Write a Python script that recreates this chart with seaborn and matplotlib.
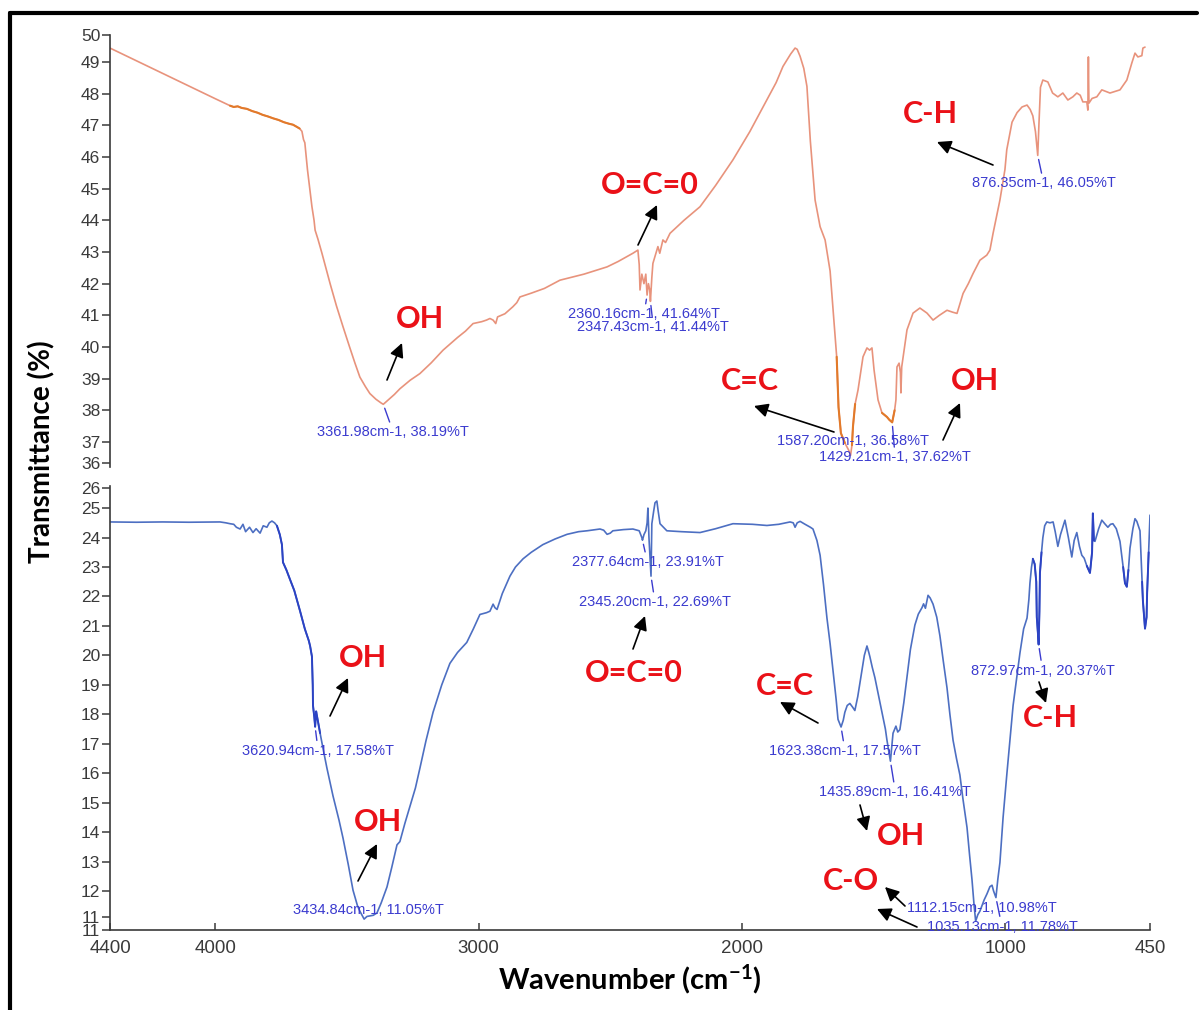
import matplotlib
matplotlib.use("Agg")
import matplotlib.pyplot as plt
from matplotlib.lines import Line2D
import pandas as pd
import seaborn as sns

# ---------------- spectra (wavenumber in cm-1, transmittance in %) ----------------
top_wn = [4400, 4300, 4200, 4100, 4000, 3944, 3930, 3915, 3900, 3880, 3860, 3840, 3820,
          3800, 3780, 3760, 3740, 3720, 3705, 3690, 3680, 3671, 3665, 3660, 3650, 3640,
          3633, 3625, 3621, 3610, 3595, 3580, 3564, 3540, 3515, 3490, 3470, 3451, 3430,
          3413, 3390, 3370, 3361.98, 3340, 3320, 3299, 3260, 3223, 3180, 3135, 3080, 3050,
          3021, 3000, 2988, 2970, 2957, 2945, 2935, 2928, 2900, 2870, 2855, 2843, 2800,
          2750, 2691, 2600, 2512, 2470, 2414, 2395, 2390, 2387, 2380, 2372, 2365, 2360.16,
          2355, 2350, 2347.43, 2342, 2338, 2325, 2319, 2312, 2300, 2290, 2273, 2220, 2159,
          2100, 2034, 1970, 1905, 1870, 1844, 1815, 1798, 1790, 1779, 1765, 1753, 1740,
          1722, 1703, 1684, 1665, 1654, 1640, 1633, 1624, 1609, 1595, 1587.20, 1582, 1578,
          1570, 1559, 1540, 1525, 1515, 1506, 1498, 1483, 1468, 1449, 1440, 1429.21, 1420,
          1415, 1411, 1403, 1398, 1396, 1393, 1373, 1350, 1324, 1297, 1274, 1250, 1221,
          1200, 1183, 1160, 1140, 1122, 1096, 1070, 1058, 1046, 1020, 1001, 994, 974, 955,
          936, 917, 905, 895, 885, 876.35, 872, 866, 857, 838, 820, 800, 781, 762, 743, 728,
          715, 705, 690, 686, 684, 682, 670, 652, 633, 602, 564, 538, 519, 507, 496, 481,
          477, 469]
top_t = [49.44, 49.04, 48.64, 48.24, 47.84, 47.62, 47.58, 47.60, 47.55, 47.52, 47.45, 47.40,
         47.33, 47.28, 47.22, 47.17, 47.10, 47.05, 47.02, 46.95, 46.90, 46.81, 46.55, 46.45,
         45.60, 44.90, 44.43, 44.00, 43.69, 43.40, 42.96, 42.50, 42.00, 41.30, 40.64, 40.00,
         39.50, 39.05, 38.75, 38.53, 38.35, 38.23, 38.19, 38.35, 38.50, 38.68, 38.95, 39.16,
         39.50, 39.90, 40.30, 40.50, 40.74, 40.78, 40.80, 40.85, 40.90, 40.85, 40.74, 40.95,
         41.05, 41.27, 41.40, 41.58, 41.70, 41.85, 42.11, 42.30, 42.53, 42.70, 42.96, 43.06,
         42.60, 41.80, 42.30, 42.00, 42.30, 41.64, 42.00, 41.80, 41.44, 42.20, 42.64, 43.00,
         43.17, 42.96, 43.38, 43.30, 43.59, 44.00, 44.43, 45.10, 45.91, 46.80, 47.81, 48.35,
         48.86, 49.25, 49.44, 49.40, 49.18, 48.80, 48.23, 46.50, 44.64, 43.80, 43.38, 42.40,
         41.20, 39.69, 38.10, 37.28, 36.97, 36.75, 36.58, 36.90, 37.50, 38.20, 38.64, 39.69,
         39.97, 39.90, 39.97, 39.27, 38.33, 37.92, 37.79, 37.70, 37.62, 38.00, 38.33, 39.37,
         39.49, 39.20, 38.55, 39.37, 40.54, 41.07, 41.23, 41.07, 40.85, 41.00, 41.16, 41.10,
         41.06, 41.69, 42.00, 42.32, 42.74, 42.90, 43.06, 43.59, 44.64, 45.60, 46.23, 47.10,
         47.40, 47.58, 47.64, 47.50, 47.30, 46.80, 46.05, 47.00, 48.20, 48.43, 48.37, 48.02,
         47.90, 48.02, 47.80, 47.90, 48.02, 47.95, 47.74, 47.74, 47.48, 49.16, 47.70, 47.85,
         47.90, 48.12, 48.02, 48.12, 48.43, 48.97, 49.28, 49.16, 49.20, 49.44, 49.47]

bottom_wn = [4400, 4300, 4200, 4100, 4000, 3982, 3960, 3944, 3930, 3920, 3906, 3895, 3885,
             3870, 3857, 3845, 3830, 3818, 3804, 3795, 3785, 3775, 3766, 3755, 3747, 3743,
             3730, 3716, 3700, 3678, 3660, 3645, 3640, 3633, 3630, 3629, 3624, 3620.94, 3617,
             3614, 3602, 3590, 3576, 3553, 3530, 3515, 3495, 3477, 3460, 3451, 3434.84, 3424,
             3400, 3386, 3370, 3348, 3330, 3310, 3299, 3280, 3261, 3240, 3223, 3200, 3173,
             3140, 3109, 3080, 3045, 3020, 2995, 2970, 2957, 2945, 2938, 2930, 2910, 2881,
             2860, 2831, 2800, 2756, 2710, 2664, 2620, 2588, 2539, 2525, 2512, 2500, 2490,
             2450, 2414, 2390, 2380, 2377.64, 2372, 2365, 2360, 2357, 2353, 2345.20, 2342,
             2335, 2330, 2323, 2318, 2311, 2285, 2230, 2159, 2100, 2034, 1960, 1905, 1860,
             1817, 1805, 1798, 1790, 1779, 1760, 1740, 1730, 1715, 1703, 1690, 1677, 1665,
             1654, 1642, 1635, 1623.38, 1615, 1609, 1600, 1590, 1580, 1571, 1560, 1544, 1535,
             1525, 1518, 1514, 1505, 1495, 1480, 1468, 1455, 1449, 1435.89, 1430, 1426, 1415,
             1408, 1400, 1385, 1373, 1360, 1343, 1330, 1316, 1310, 1303, 1293, 1285, 1274,
             1260, 1248, 1235, 1221, 1210, 1198, 1185, 1172, 1160, 1145, 1135, 1126, 1118,
             1112.15, 1104, 1096, 1080, 1069, 1058, 1050, 1044, 1035.13, 1028, 1020, 1008,
             994, 982, 970, 957, 944, 930, 917, 910, 906, 900, 895, 888, 882, 880, 876,
             872.97, 870, 868, 862, 857, 850, 842, 830, 818, 810, 800, 790, 773, 760, 747,
             738, 728, 718, 709, 700, 690, 678, 670, 667, 663, 659, 645, 633, 620, 610, 600,
             591, 578, 564, 552, 545, 538, 532, 526, 515, 507, 500, 488, 480, 477, 469, 463,
             461, 455, 450]
bottom_t = [24.53, 24.52, 24.53, 24.52, 24.53, 24.53, 24.50, 24.47, 24.45, 24.35, 24.29,
            24.45, 24.20, 24.35, 24.17, 24.30, 24.15, 24.40, 24.35, 24.50, 24.56, 24.50,
            24.40, 24.10, 23.76, 23.16, 22.90, 22.57, 22.20, 21.50, 20.90, 20.50, 20.32,
            19.96, 19.00, 18.30, 17.90, 17.58, 18.10, 17.95, 17.36, 16.80, 16.17, 15.23,
            14.40, 13.80, 12.90, 12.03, 11.50, 11.32, 11.05, 11.14, 11.18, 11.26, 11.60,
            12.14, 12.80, 13.57, 13.68, 14.30, 14.87, 15.50, 16.17, 17.10, 18.07, 19.00,
            19.73, 20.10, 20.44, 20.90, 21.39, 21.45, 21.50, 21.74, 21.62, 21.56, 22.10,
            22.69, 23.00, 23.28, 23.50, 23.76, 23.95, 24.11, 24.20, 24.23, 24.29, 24.25,
            24.11, 24.15, 24.23, 24.27, 24.29, 24.23, 24.00, 23.91, 24.10, 24.23, 24.50,
            25.00, 24.00, 22.69, 24.47, 24.90, 25.18, 25.24, 24.90, 24.47, 24.23, 24.20,
            24.17, 24.30, 24.47, 24.45, 24.41, 24.45, 24.53, 24.50, 24.35, 24.50, 24.55,
            24.45, 24.35, 24.29, 23.90, 23.40, 22.40, 21.27, 20.40, 19.49, 18.50, 17.83,
            17.57, 17.80, 18.07, 18.30, 18.37, 18.25, 18.13, 18.60, 19.49, 20.00, 20.32,
            20.10, 19.96, 19.60, 19.25, 18.60, 18.07, 17.50, 17.12, 16.41, 17.00, 17.36,
            17.60, 17.40, 17.48, 18.40, 19.25, 20.20, 21.03, 21.40, 21.62, 21.75, 21.60,
            22.04, 21.95, 21.74, 21.30, 20.67, 19.80, 18.90, 18.00, 17.12, 16.50, 15.94,
            15.10, 14.16, 13.20, 12.38, 11.50, 10.98, 11.20, 11.32, 11.70, 11.91, 12.15,
            12.20, 12.00, 11.78, 12.40, 12.97, 14.50, 15.94, 17.10, 18.30, 19.20, 20.08,
            20.90, 21.27, 21.90, 22.45, 23.00, 23.28, 23.10, 22.50, 21.30, 20.80, 20.37,
            21.50, 22.80, 23.50, 23.99, 24.40, 24.53, 24.50, 24.53, 24.20, 23.70, 24.10,
            24.59, 24.00, 23.34, 23.90, 24.17, 23.70, 23.40, 23.30, 23.04, 22.80, 23.50,
            24.82, 23.90, 23.87, 24.30, 24.59, 24.45, 24.35, 24.45, 24.47, 24.30, 23.87,
            23.00, 22.45, 22.33, 22.90, 23.64, 24.30, 24.64, 24.55, 24.23, 22.50, 21.86,
            20.91, 21.30, 22.10, 23.50, 24.76]

# ---------------- picked peaks ----------------
top_peak_wn = [3361.98, 2360.16, 2347.43, 1587.20, 1429.21, 876.35]
top_peak_t = [38.19, 41.64, 41.44, 36.58, 37.62, 46.05]
bottom_peak_wn = [3620.94, 3434.84, 2377.64, 2345.20, 1623.38, 1435.89, 1112.15, 1035.13, 872.97]
bottom_peak_t = [17.58, 11.05, 23.91, 22.69, 17.57, 16.41, 10.98, 11.78, 20.37]

# label offsets from each peak, in pixels (right, down)
top_peak_offsets = [(10, 28), (-3, 19), (3, 26), (2, -14), (3, 35), (6, 28)]
bottom_peak_offsets = [(3, 24), (4, -9), (5, 22), (4, 26), (4, 24), (5, 31), (6, -13), (6, 29), (4, 26)]

# functional-group labels: text, centre (px), arrows as (tail, head) in px from top-left
group_labels = [
    ("OH", (420, 319), [((387, 380), (402, 343))]),
    ("O=C=0", (650, 185), [((638, 245), (657, 205))]),
    ("C=C", (750, 381), [((834, 432), (754, 406))]),
    ("OH", (975, 381), [((943, 440), (960, 403))]),
    ("C-H", (930, 114), [((993, 165), (937, 142))]),
    ("OH", (363, 658), [((330, 716), (348, 678))]),
    ("OH", (378, 822), [((358, 881), (377, 844))]),
    ("O=C=0", (634, 673), [((633, 649), (645, 616))]),
    ("C=C", (785, 686), [((818, 723), (780, 702))]),
    ("OH", (901, 836), [((860, 805), (867, 831))]),
    ("C-O", (851, 881), [((905, 906), (885, 887)), ((917, 927), (877, 909))]),
    ("C-H", (1050, 718), [((1039, 682), (1046, 703))]),
]

# darker re-scan segments (wavenumber ranges)
top_dark_ranges = [(3950, 3672), (1640, 1600), (1582, 1565), (1470, 1418)]
bottom_dark_ranges = [(3770, 3600), (895, 862), (692, 660), (552, 530), (486, 455)]

W, H = 1203, 1010
ORANGE = "#E8937C"
ORANGE_DARK = "#E27A2A"
BLUE = "#4D6FC2"
BLUE_DARK = "#2C43C4"
LABEL_BLUE = "#3B3BCF"
RED = "#EA1118"
GREY = "#3a3a3a"

sns.set_theme(style="white")
plt.rcParams["font.family"] = ["Liberation Sans", "DejaVu Sans"]
plt.rcParams["mathtext.fontset"] = "custom"
plt.rcParams["mathtext.rm"] = "Lato"
plt.rcParams["mathtext.bf"] = "Lato:bold"
plt.rcParams["mathtext.default"] = "bf"

fig = plt.figure(figsize=(W / 100, H / 100), dpi=100)
fig.patch.set_facecolor("white")

ax_top = fig.add_axes([110 / W, 1 - 467 / H, 1040 / W, (467 - 35.4) / H])
ax_bot = fig.add_axes([110 / W, 1 - 930 / H, 1040 / W, (930 - 486) / H])

top_df = pd.DataFrame({"wn": top_wn, "T": top_t})
bot_df = pd.DataFrame({"wn": bottom_wn, "T": bottom_t})

sns.lineplot(data=top_df, x="wn", y="T", ax=ax_top, color=ORANGE, lw=1.2,
             sort=False, estimator=None)
for hi, lo in top_dark_ranges:
    seg = top_df[(top_df.wn <= hi) & (top_df.wn >= lo)]
    sns.lineplot(data=seg, x="wn", y="T", ax=ax_top, color=ORANGE_DARK, lw=1.5,
                 sort=False, estimator=None)

sns.lineplot(data=bot_df, x="wn", y="T", ax=ax_bot, color=BLUE, lw=1.2,
             sort=False, estimator=None)
for hi, lo in bottom_dark_ranges:
    seg = bot_df[(bot_df.wn <= hi) & (bot_df.wn >= lo)]
    sns.lineplot(data=seg, x="wn", y="T", ax=ax_bot, color=BLUE_DARK, lw=1.4,
                 sort=False, estimator=None)

for ax in (ax_top, ax_bot):
    ax.set_xlim(4400, 450)
    ax.set_facecolor("none")
    ax.set_xlabel("")
    ax.set_ylabel("")
    for s in ("top", "right"):
        ax.spines[s].set_visible(False)
    ax.spines["left"].set_color(GREY)
    ax.spines["left"].set_linewidth(1.2)
    ax.tick_params(axis="y", direction="out", length=6, width=1.1, colors=GREY,
                   labelsize=12.5, pad=1, left=True)

ax_top.spines["bottom"].set_visible(False)
ax_top.tick_params(axis="x", bottom=False, labelbottom=False)
ax_top.set_ylim(36.21, 49.84)
ax_top.set_yticks([36.33] + list(range(37, 50)) + [49.84])
ax_top.set_yticklabels(["36"] + [str(v) for v in range(37, 50)] + ["50"])

ax_bot.set_ylim(10.68, 25.75)
ax_bot.set_yticks([10.68, 11.13] + list(range(12, 26)) + [25.68])
ax_bot.set_yticklabels(["11", "11"] + [str(v) for v in range(12, 26)] + ["26"])
ax_bot.spines["bottom"].set_color(GREY)
ax_bot.spines["bottom"].set_linewidth(1.2)
ax_bot.set_xticks([4400, 4000, 3000, 2000, 1000, 450])
ax_bot.set_xticklabels(["4400", "4000", "3000", "2000", "1000", "450"])
ax_bot.tick_params(axis="x", direction="in", length=5, width=1.1, colors=GREY,
                   labelsize=13.5, pad=7, bottom=True)


def peak_labels(ax, wns, ts, offsets):
    for wn, t, (dx, dy) in zip(wns, ts, offsets):
        kw = {}
        if abs(dy) > 15:
            kw["arrowprops"] = dict(arrowstyle="-", color=LABEL_BLUE, lw=1.0,
                                    shrinkA=0, shrinkB=3)
        ax.annotate(f"{wn:.2f}cm-1, {t:.2f}%T", xy=(wn, t), xytext=(dx, -dy),
                    textcoords="offset pixels", ha="center", va="center",
                    fontsize=10.5, color=LABEL_BLUE, annotation_clip=False, **kw)


peak_labels(ax_top, top_peak_wn, top_peak_t, top_peak_offsets)
peak_labels(ax_bot, bottom_peak_wn, bottom_peak_t, bottom_peak_offsets)

for text, (cx, cy), arrows in group_labels:
    fig.text(cx / W, 1 - cy / H, text, ha="center", va="center", color=RED,
             fontsize=22, fontweight="bold", family="Lato")
    for (tx, ty), (hx, hy) in arrows:
        ax_top.annotate("", xy=(hx, H - hy), xytext=(tx, H - ty),
                        xycoords="figure pixels", textcoords="figure pixels",
                        annotation_clip=False,
                        arrowprops=dict(arrowstyle="-|>,head_length=0.6,head_width=0.3",
                                        color="black", lw=1.2, shrinkA=0, shrinkB=0,
                                        mutation_scale=14))

fig.text(42 / W, 1 - 452 / H, "Transmittance (%)", rotation=90, ha="center",
         va="center", fontsize=20, fontweight="bold", family="Lato", color="black")
fig.text(630 / W, 1 - 979 / H, r"Wavenumber (cm$^{-1}$)", ha="center", va="center",
         fontsize=21, fontweight="bold", family="Lato", color="black")

# frame lines along the top and left edges
fig.add_artist(Line2D([10 / W, 1197 / W], [1 - 13 / H, 1 - 13 / H],
                      transform=fig.transFigure, color="black", lw=3))
fig.add_artist(Line2D([10 / W, 10 / W], [1 - 13 / H, 0],
                      transform=fig.transFigure, color="black", lw=3))

fig.savefig("out.png", dpi=100, facecolor="white")
